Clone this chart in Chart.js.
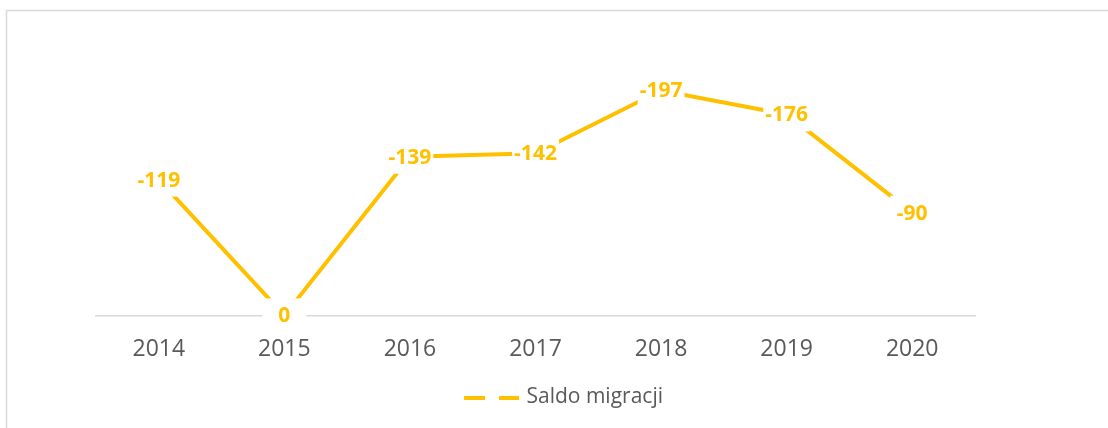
<!DOCTYPE html>
<html>
<head>
<meta charset="utf-8">
<script src="https://cdn.jsdelivr.net/npm/chart.js@4/dist/chart.umd.min.js"></script>
<style>
  html, body { margin: 0; padding: 0; background: #fff; }
  #wrap { width: 1108px; height: 428px; position: relative; }
</style>
</head>
<body>
<div id="wrap"><canvas id="myChart"></canvas></div>
<script>
/* global Chart */

let years = ["2014", "2015", "2016", "2017", "2018", "2019", "2020"];
let saldo = [-119, 0, -139, -142, -197, -176, -90];
let seriesName = "Saldo migracji";
let yMin = -250;
let yMax = 0;

const yellow = "#FFC000";
const gray = "#595959";

// legend sample: dashed line, drawn into a small canvas
const legendImg = document.createElement("canvas");
legendImg.width = 116;
legendImg.height = 4;
const lctx = legendImg.getContext("2d");
lctx.fillStyle = yellow;
lctx.fillRect(60, 0, 21, 4);
lctx.fillRect(95, 0, 20, 4);

// frame around the chart (only left and top edges are visible)
const framePlugin = {
  id: "frame",
  beforeDraw(chart) {
    const c = chart.ctx;
    c.save();
    c.strokeStyle = "#d9d9d9";
    c.lineWidth = 1.5;
    c.strokeRect(6.5, 10.5, 1300, 600);
    c.restore();
  },
};

// value labels with white box, centered on each point
const labelPlugin = {
  id: "valueLabels",
  afterDatasetsDraw(chart) {
    const c = chart.ctx;
    const meta = chart.getDatasetMeta(0);
    const data = chart.data.datasets[0].data;
    c.save();
    c.font = "bold 21px 'Open Sans'";
    c.textAlign = "center";
    c.textBaseline = "middle";
    meta.data.forEach(function (pt, i) {
      const txt = String(data[i]);
      const w = Math.max(c.measureText(txt).width + 4, 44);
      const h = 34;
      c.fillStyle = "#fff";
      c.fillRect(pt.x - w / 2, pt.y - h / 2, w, h);
      c.fillStyle = yellow;
      c.fillText(txt, pt.x, pt.y + 1);
    });
    c.restore();
  },
};

const ctx = document.getElementById("myChart");
const myChart = new Chart(ctx, {
  type: "line",
  data: {
    labels: years,
    datasets: [
      {
        label: seriesName,
        data: saldo,
        borderColor: yellow,
        backgroundColor: yellow,
        borderWidth: 4,
        pointRadius: 0,
        tension: 0,
      },
    ],
  },
  options: {
    responsive: true,
    maintainAspectRatio: false,
    animation: false,
    layout: {
      padding: { left: 96, right: 133, top: 30, bottom: 10 },
    },
    scales: {
      x: {
        offset: true,
        grid: { display: false, drawTicks: false },
        border: { display: true, color: "#d9d9d9", width: 1.5 },
        ticks: {
          color: gray,
          font: { family: "'Open Sans'", size: 23 },
          padding: 20,
        },
      },
      y: {
        display: false,
        reverse: true,
        min: yMin,
        max: yMax,
      },
    },
    plugins: {
      tooltip: { enabled: false },
      legend: {
        position: "bottom",
        labels: {
          usePointStyle: true,
          pointStyle: legendImg,
          pointStyleWidth: 108,
          color: gray,
          font: { family: "'Open Sans'", size: 21 },
          padding: 4,
        },
      },
    },
  },
  plugins: [framePlugin, labelPlugin],
});
</script>
</body>
</html>
